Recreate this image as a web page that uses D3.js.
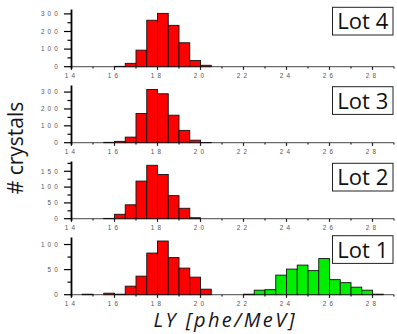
<!DOCTYPE html>
<html><head><meta charset="utf-8">
<script src="https://cdn.jsdelivr.net/npm/d3@7"></script>
<style>body{margin:0;background:#fff}svg{display:block}</style>
</head><body>
<svg id="c" width="397" height="334"></svg>
<script>
// ---- data ----
const lots = ["Lot 4", "Lot 3", "Lot 2", "Lot 1"];
const redBins = [14.0, 14.5, 15.0, 15.5, 16.0, 16.5, 17.0, 17.5, 18.0, 18.5, 19.0, 19.5, 20.0];
const lot4Red = [0, 0, 0, 0, 2, 19, 94, 264, 303, 235, 136, 35, 8];
const lot3Red = [0, 0, 0, 2, 8, 33, 173, 315, 290, 163, 73, 15, 1];
const lot2Red = [0, 0, 0, 1, 14, 44, 119, 169, 140, 73, 33, 3, 0];
const lot1Red = [0, 1, 0, 3, 1, 17, 37, 83, 107, 74, 53, 35, 11];
const greenBins = [22.0, 22.5, 23.0, 23.5, 24.0, 24.5, 25.0, 25.5, 26.0, 26.5, 27.0, 27.5, 28.0];
const lot1Green = [1, 9, 10, 39, 51, 59, 48, 72, 30, 24, 15, 9, 1];
const binWidth = 0.5;
const xTicks = [14, 16, 18, 20, 22, 24, 26, 28];
const xMinor = [15, 17, 19, 21, 23, 25, 27, 29];
const yMaxes = [325, 339, 181, 114];
const yMajor = [[0, 100, 200, 300], [0, 100, 200, 300], [0, 50, 100, 150], [0, 50, 100]];
const yMinor = [[50, 150, 250], [50, 150, 250], [25, 75, 125, 175], [25, 75]];
const redSeries = [lot4Red, lot3Red, lot2Red, lot1Red];
const greenSeries = [null, null, null, lot1Green];

// ---- layout ----
const svg = d3.select("#c");
const x = d3.scaleLinear().domain([14, 29]).range([71.5, 394]);
const panelTop0 = 9.5, panelStep = 76, panelH = 57.2;
const boxTops = [7.3, 86.7, 163.3, 235.7];
const tickFont = "'Liberation Sans', Arial, sans-serif";

lots.forEach((lot, i) => {
  const top = panelTop0 + panelStep * i;
  const zero = top + panelH;
  const y = d3.scaleLinear().domain([0, yMaxes[i]]).range([zero, top]);
  const g = svg.append("g");

  // x axis line
  g.append("line").attr("x1", x(14)).attr("x2", x(29)).attr("y1", zero).attr("y2", zero)
    .attr("stroke", "#6a6a6a").attr("stroke-width", 1.3);
  // x ticks
  xTicks.forEach(t => {
    g.append("line").attr("x1", x(t)).attr("x2", x(t)).attr("y1", zero).attr("y2", zero + 3.2)
      .attr("stroke", "#222").attr("stroke-width", 1.2);
    g.append("text").attr("x", x(t)).attr("y", zero + 11.5).attr("text-anchor", "middle")
      .attr("font-family", tickFont).attr("font-size", 6.3).attr("letter-spacing", 3.2)
      .attr("fill", "#555").text(String(t));
  });
  xMinor.forEach(t => {
    g.append("line").attr("x1", x(t)).attr("x2", x(t)).attr("y1", zero).attr("y2", zero + 1.8)
      .attr("stroke", "#222").attr("stroke-width", 1.2);
  });

  // bars
  const drawBars = (bins, vals, color) => {
    g.selectAll(null).data(bins.map((b, k) => ({b, v: vals[k]}))).enter().append("rect")
      .attr("x", d => x(d.b)).attr("width", d => x(d.b + binWidth) - x(d.b))
      .attr("y", d => y(d.v)).attr("height", d => zero - y(d.v))
      .attr("fill", color).attr("stroke", "#111").attr("stroke-width", 0.9);
  };
  drawBars(redBins, redSeries[i], "#ff0000");
  if (greenSeries[i]) drawBars(greenBins, greenSeries[i], "#00ee00");

  // y axis
  g.append("line").attr("x1", x(14)).attr("x2", x(14)).attr("y1", top).attr("y2", zero + 2)
    .attr("stroke", "#000").attr("stroke-width", 1.8);
  yMajor[i].forEach(t => {
    g.append("line").attr("x1", x(14) - 7.5).attr("x2", x(14)).attr("y1", y(t)).attr("y2", y(t))
      .attr("stroke", "#000").attr("stroke-width", 1.2);
    g.append("text").attr("x", 61).attr("y", y(t) + 2.3).attr("text-anchor", "end")
      .attr("font-family", tickFont).attr("font-size", 6.3).attr("letter-spacing", 3.2)
      .attr("fill", "#555").text(String(t));
  });
  yMinor[i].forEach(t => {
    g.append("line").attr("x1", x(14) - 4).attr("x2", x(14)).attr("y1", y(t)).attr("y2", y(t))
      .attr("stroke", "#000").attr("stroke-width", 1.2);
  });

  // lot label box
  const bt = boxTops[i];
  g.append("rect").attr("x", 332.5).attr("y", bt).attr("width", 60.5).attr("height", 27.7)
    .attr("fill", "#fff").attr("stroke", "#222").attr("stroke-width", 1);
  g.append("text").attr("x", 362.8).attr("y", bt + 22).attr("text-anchor", "middle")
    .attr("font-family", "'Open Sans', sans-serif").attr("font-size", 22)
    .attr("fill", "#111").text(lot);
});

// axis titles
svg.append("text").attr("transform", "translate(22.5,148) rotate(-90)")
  .attr("text-anchor", "middle").attr("font-family", "'Open Sans', sans-serif")
  .attr("font-size", 21).attr("fill", "#151520").text("# crystals");
svg.append("text").attr("x", 224).attr("y", 327).attr("text-anchor", "middle")
  .attr("font-family", "'Open Sans', sans-serif").attr("font-style", "italic")
  .attr("font-size", 20).attr("fill", "#151520")
  .attr("textLength", 141).attr("lengthAdjust", "spacing").text("LY [phe/MeV]");
</script>
</body></html>
